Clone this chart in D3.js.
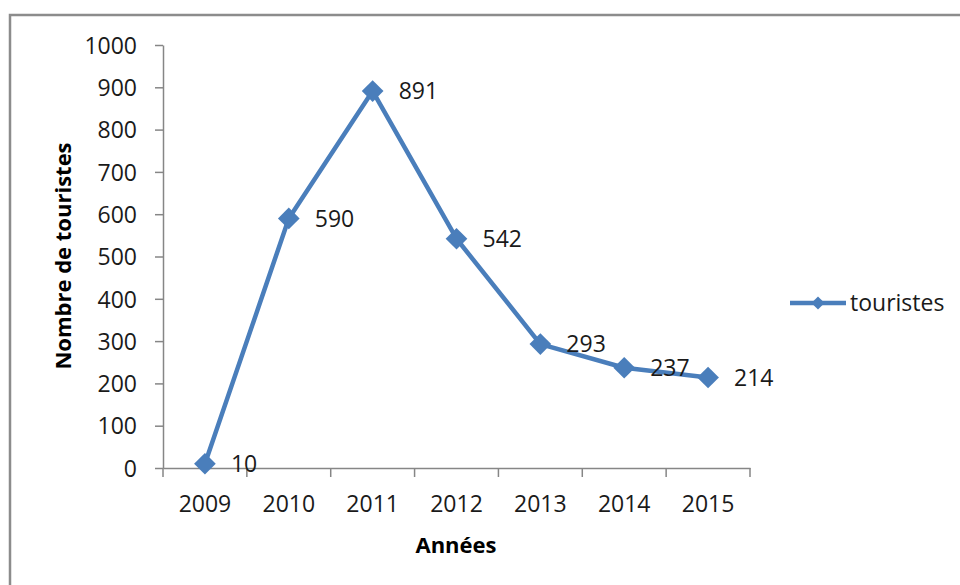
<!DOCTYPE html>
<html>
<head>
<meta charset="utf-8">
<script src="https://cdn.jsdelivr.net/npm/d3@7"></script>
<style>
  body { margin: 0; background: #fff; }
  svg { display: block; font-family: "Open Sans", sans-serif; }
</style>
</head>
<body>
<svg id="chart" width="960" height="585"></svg>
<script>
const years = ["2009", "2010", "2011", "2012", "2013", "2014", "2015"];
const touristes = [10, 590, 891, 542, 293, 237, 214];
const yTicks = [0, 100, 200, 300, 400, 500, 600, 700, 800, 900, 1000];
const seriesName = "touristes";

const svg = d3.select("#chart");
const blue = "#4a7ebb";
const axisGray = "#868686";

// outer frame of the chart area (runs off the right and bottom edges)
svg.append("rect")
    .attr("x", 10).attr("y", 15)
    .attr("width", 1000).attr("height", 700)
    .attr("fill", "none")
    .attr("stroke", "#8c8c8c")
    .attr("stroke-width", 2.5);

const plot = {left: 163, right: 750, top: 45, bottom: 468};

const x = d3.scaleBand()
    .domain(years)
    .range([plot.left, plot.right])
    .padding(0);

const y = d3.scaleLinear()
    .domain([0, 1000])
    .range([plot.bottom, plot.top]);

// y axis
const yAxis = svg.append("g")
    .attr("transform", `translate(${plot.left},0)`)
    .call(d3.axisLeft(y).tickValues(yTicks).tickFormat(d3.format("d"))
        .tickSize(8).tickPadding(18).tickSizeOuter(0));

// x axis, ticks between categories
const xAxis = svg.append("g")
    .attr("transform", `translate(0,${plot.bottom})`)
    .call(d3.axisBottom(x).tickSize(0).tickPadding(44).tickSizeOuter(0));

const bounds = years.map(d => x(d)).concat([plot.right]);
xAxis.selectAll(".sep")
    .data(bounds)
    .join("line")
    .attr("class", "sep")
    .attr("x1", d => d).attr("x2", d => d)
    .attr("y1", 0).attr("y2", 9);

[yAxis, xAxis].forEach(g => {
    g.select(".domain").attr("stroke", axisGray).attr("stroke-width", 1.5);
    g.selectAll("line").attr("stroke", axisGray).attr("stroke-width", 1.5);
    g.selectAll("text")
        .attr("fill", "#1a1a1a")
        .style("font-size", "23px")
        .style("font-family", "'Open Sans', sans-serif");
});
yAxis.selectAll("text").attr("dy", "0.36em");
xAxis.selectAll(".tick text").attr("dy", "0");

const cx = d => x(d) + x.bandwidth() / 2;

// series line
const line = d3.line()
    .x((d, i) => cx(years[i]))
    .y(d => y(d));

svg.append("path")
    .datum(touristes)
    .attr("d", line)
    .attr("fill", "none")
    .attr("stroke", blue)
    .attr("stroke-width", 4.5)
    .attr("stroke-linejoin", "round");

const diamond = d3.symbol().type(d3.symbolDiamond2).size(300);

svg.selectAll(".marker")
    .data(touristes)
    .join("path")
    .attr("class", "marker")
    .attr("d", diamond)
    .attr("transform", (d, i) => `translate(${cx(years[i])},${y(d)})`)
    .attr("fill", blue);

// data labels
svg.selectAll(".label")
    .data(touristes)
    .join("text")
    .attr("class", "label")
    .attr("x", (d, i) => cx(years[i]) + 26)
    .attr("y", d => y(d))
    .attr("dy", "0.36em")
    .attr("fill", "#1a1a1a")
    .style("font-size", "23px")
    .text(d => d);

// axis titles
svg.append("text")
    .attr("transform", "translate(71,256) rotate(-90)")
    .attr("text-anchor", "middle")
    .style("font-size", "22px")
    .style("font-weight", "bold")
    .attr("fill", "#000")
    .text("Nombre de touristes");

svg.append("text")
    .attr("x", 456)
    .attr("y", 553)
    .attr("text-anchor", "middle")
    .style("font-size", "22px")
    .style("font-weight", "bold")
    .attr("fill", "#000")
    .text("Années");

// legend
const legend = svg.append("g").attr("transform", "translate(790,303)");
legend.append("line")
    .attr("x1", 0).attr("x2", 56)
    .attr("y1", 0).attr("y2", 0)
    .attr("stroke", blue)
    .attr("stroke-width", 4.5);
legend.append("path")
    .attr("d", d3.symbol().type(d3.symbolDiamond2).size(110))
    .attr("transform", "translate(28,0)")
    .attr("fill", blue);
legend.append("text")
    .attr("x", 60)
    .attr("y", 0)
    .attr("dy", "0.36em")
    .attr("fill", "#1a1a1a")
    .style("font-size", "23px")
    .text(seriesName);
</script>
</body>
</html>
